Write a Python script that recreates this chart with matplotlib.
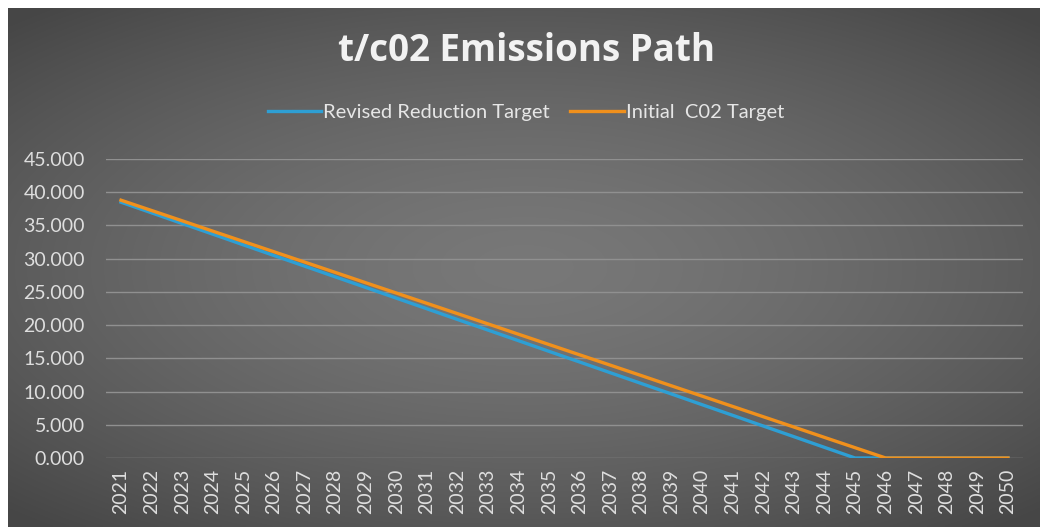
import numpy as np
import matplotlib.pyplot as plt

plt.rcParams['font.family'] = ['Lato', 'DejaVu Sans']

years = [str(y) for y in range(2021, 2051)]
revised = [38.50, 36.90, 35.29, 33.69, 32.08, 30.48, 28.88, 27.27, 25.67, 24.06,
           22.46, 20.85, 19.25, 17.65, 16.04, 14.44, 12.83, 11.23, 9.63, 8.02,
           6.42, 4.81, 3.21, 1.60, 0.0, 0.0, 0.0, 0.0, 0.0, 0.0]
initial = [38.80, 37.25, 35.70, 34.14, 32.59, 31.04, 29.49, 27.94, 26.38, 24.83,
           23.28, 21.73, 20.18, 18.62, 17.07, 15.52, 13.97, 12.42, 10.86, 9.31,
           7.76, 6.21, 4.66, 3.10, 1.55, 0.0, 0.0, 0.0, 0.0, 0.0]
yticks = [0, 5, 10, 15, 20, 25, 30, 35, 40, 45]

W, H = 1040, 527
fig = plt.figure(figsize=(W / 100, H / 100), dpi=100)
fig.patch.set_facecolor('white')

# gray background with lighter centre (scanned look)
bg = fig.add_axes([8 / W, 0, 1 - 8 / W, 1 - 8 / H])
yy, xx = np.mgrid[-1:1:200j, -1:1:400j]
r = np.sqrt((xx * 0.9) ** 2 + (yy * 1.0) ** 2)
shade = 0.47 - 0.13 * np.clip(r, 0, 1.3) ** 1.5
bg.imshow(np.dstack([shade] * 3), aspect='auto', extent=[0, 1, 0, 1], interpolation='bilinear')
bg.axis('off')

left, right = 105.7, 1023.3
bottom, top = 458, 159
ax = fig.add_axes([left / W, 1 - bottom / H, (right - left) / W, (bottom - top) / H])
ax.set_facecolor('none')

x = np.arange(len(years))
ax.plot(x, revised, color='#2e9fd4', lw=2.4, label='Revised Reduction Target', zorder=3)
ax.plot(x, initial, color='#f0901c', lw=2.4, label='Initial  C02 Target', zorder=4)

ax.set_xlim(-0.5, len(years) - 0.5)
ax.set_ylim(0, 45)
ax.set_yticks(yticks)
ax.set_yticklabels([f'{v:.3f}' for v in yticks])
ax.set_xticks(x)
ax.set_xticklabels(years, rotation=90)
ax.grid(axis='y', color='#909090', lw=1)
ax.set_axisbelow(True)
for s in ax.spines.values():
    s.set_visible(False)
ax.tick_params(length=0, colors='#dedede', labelsize=14)
ax.tick_params(axis='y', pad=15)
ax.tick_params(axis='x', pad=8)

fig.text(527 / W, 1 - 51 / H, 't/c02 Emissions Path', ha='center', va='center',
         fontsize=26.5, fontweight='bold', color='#f2f2f2', family='Open Sans')
fig.legend(loc='center', bbox_to_anchor=(526 / W, 1 - 112 / H), ncol=2, frameon=False,
           fontsize=14.5, labelcolor='#e6e6e6', handlelength=2.65, handletextpad=0.1,
           columnspacing=1.0)

fig.savefig('out.png', dpi=100)
